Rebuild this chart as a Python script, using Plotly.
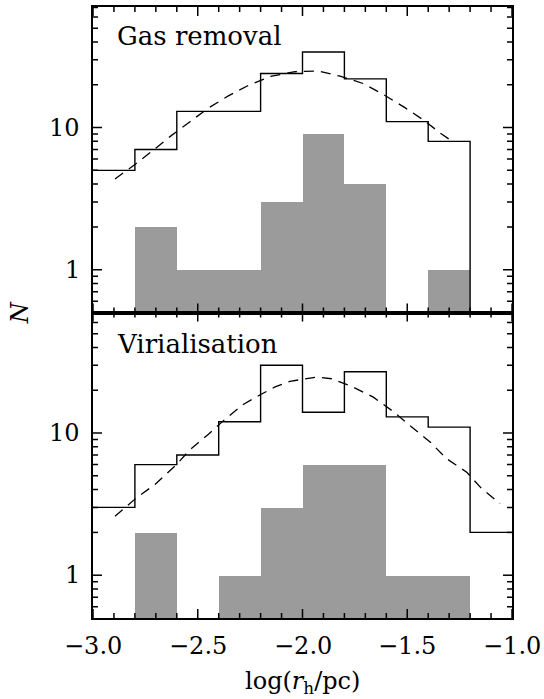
import math
import plotly.graph_objects as go
from plotly.subplots import make_subplots

# Bin edges of log(r_h/pc), width 0.2 dex
bin_edges = [-3.0, -2.8, -2.6, -2.4, -2.2, -2.0, -1.8, -1.6, -1.4, -1.2, -1.0]

# Gas removal: all clusters (outline) and subsample (grey)
gas_all = [5, 7, 13, 13, 24, 34, 22, 11, 8, 0]
gas_sub = [0, 2, 1, 1, 3, 9, 4, 0, 1, 0]
gas_fit_x = [-2.895, -2.803, -2.712, -2.628, -2.537, -2.450, -2.354, -2.255, -2.147,
             -2.036, -1.925, -1.821, -1.710, -1.614, -1.511, -1.423, -1.336, -1.296]
gas_fit_y = [4.35, 5.45, 6.94, 8.74, 11.0, 13.7, 16.7, 19.9, 23.0,
             24.7, 25.0, 23.0, 20.4, 17.1, 13.8, 11.3, 9.0, 8.2]

# Virialisation
vir_all = [3, 6, 7, 12, 30, 14, 27, 13, 11, 2]
vir_sub = [0, 2, 0, 1, 3, 6, 6, 1, 1, 0]
vir_fit_x = [-2.895, -2.791, -2.704, -2.600, -2.537, -2.449, -2.370, -2.283, -2.193,
             -2.131, -2.060, -1.980, -1.932, -1.861, -1.765, -1.662, -1.565, -1.487,
             -1.391, -1.312, -1.216, -1.145, -1.057]
vir_fit_y = [2.60, 3.52, 4.35, 6.03, 7.64, 9.8, 12.5, 15.9, 18.9,
             21.1, 23.1, 24.1, 24.8, 24.1, 21.3, 17.9, 14.1, 11.3,
             8.65, 6.6, 5.3, 4.07, 3.19]

panel_labels = ["Gas removal", "Virialisation"]
x_ticks = [-3.0, -2.5, -2.0, -1.5, -1.0]
x_minor = [-2.9, -2.8, -2.7, -2.6, -2.4, -2.3, -2.2, -2.1,
           -1.9, -1.8, -1.7, -1.6, -1.4, -1.3, -1.2, -1.1]
y_ticks = [1, 10]
y_minor = [0.6, 0.7, 0.8, 0.9, 2, 3, 4, 5, 6, 7, 8, 9, 20, 30, 40, 50, 60, 70]

FONT = "DejaVu Serif"
GREY = "#9b9b9b"
FLOOR = 0.1  # below the axis range, used for empty bins of the outline
X_RANGE = [-3.0, -1.0]
Y_RANGE = [-0.301, 1.848]  # log10 of 0.5 .. 70.5

W, H = 544, 699
M_L, M_R, M_T, M_B = 93, 32, 5, 81
PLOT_W = W - M_L - M_R
PLOT_H = H - M_T - M_B
PANEL_H = PLOT_H / 2
PX_PER_X = PLOT_W / (X_RANGE[1] - X_RANGE[0])
PX_PER_DEC = PANEL_H / (Y_RANGE[1] - Y_RANGE[0])
MAJOR_LEN, MINOR_LEN = 9, 5

centres = [(a + b) / 2 for a, b in zip(bin_edges[:-1], bin_edges[1:])]

fig = make_subplots(rows=2, cols=1, shared_xaxes=True, vertical_spacing=0)

panels = [(gas_all, gas_sub, gas_fit_x, gas_fit_y),
          (vir_all, vir_sub, vir_fit_x, vir_fit_y)]
for row, (all_counts, sub_counts, fx, fy) in enumerate(panels, start=1):
    fig.add_trace(go.Bar(
        x=centres, y=[c if c > 0 else None for c in sub_counts],
        width=0.2, marker=dict(color=GREY, line=dict(width=0)),
        showlegend=False, hoverinfo="skip"), row=row, col=1)
    step_y = [c if c > 0 else FLOOR for c in all_counts]
    fig.add_trace(go.Scatter(
        x=bin_edges, y=step_y + [step_y[-1]], mode="lines",
        line=dict(color="black", width=1.4, shape="hv"),
        showlegend=False, hoverinfo="skip"), row=row, col=1)
    fig.add_trace(go.Scatter(
        x=fx, y=fy, mode="lines",
        line=dict(color="black", width=1.3, dash="10px,7px"),
        showlegend=False, hoverinfo="skip"), row=row, col=1)

    # inward tick marks on all four sides, built from the tick value lists
    tx, ty = [], []
    y_lo, y_hi = 10 ** Y_RANGE[0], 10 ** Y_RANGE[1]
    for vals, length in ((x_ticks, MAJOR_LEN), (x_minor, MINOR_LEN)):
        d = length / PX_PER_DEC
        for v in vals:
            tx += [v, v, None, v, v, None]
            ty += [y_lo, 10 ** (Y_RANGE[0] + d), None, y_hi, 10 ** (Y_RANGE[1] - d), None]
    for vals, length in ((y_ticks, MAJOR_LEN), (y_minor, MINOR_LEN)):
        d = length / PX_PER_X
        for v in vals:
            tx += [X_RANGE[0], X_RANGE[0] + d, None, X_RANGE[1], X_RANGE[1] - d, None]
            ty += [v, v, None, v, v, None]
    fig.add_trace(go.Scatter(
        x=tx, y=ty, mode="lines", line=dict(color="black", width=1.5),
        showlegend=False, hoverinfo="skip", connectgaps=False), row=row, col=1)

axis_style = dict(
    showline=True, linewidth=1.8, linecolor="black", mirror=True,
    ticks="", showgrid=False, zeroline=False, showticklabels=False,
)
for r in (1, 2):
    fig.update_xaxes(range=X_RANGE, **axis_style, row=r, col=1)
    fig.update_yaxes(type="log", range=Y_RANGE, **axis_style, row=r, col=1)

label_font = dict(family=FONT, size=24, color="black")
annotations = []
# x tick labels under the lower panel
for v in x_ticks:
    annotations.append(dict(
        text=f"{v:.1f}".replace("-", "\u2212"), xref="x2", yref="paper",
        x=v, y=-28 / PLOT_H, xanchor="center", yanchor="middle",
        showarrow=False, font=label_font))
# y tick labels for both panels
for ya in ("y", "y2"):
    for v in y_ticks:
        annotations.append(dict(
            text=str(v), xref="paper", yref=ya, x=-11 / PLOT_W, y=math.log10(v),
            xanchor="right", yanchor="middle", showarrow=False, font=label_font))

annotations += [
    dict(text=panel_labels[0], xref="paper", yref="paper",
         x=0.052, y=0.953, xanchor="left", yanchor="middle",
         showarrow=False, font=dict(family=FONT, size=26)),
    dict(text=panel_labels[1], xref="paper", yref="paper",
         x=0.052, y=0.448, xanchor="left", yanchor="middle",
         showarrow=False, font=dict(family=FONT, size=26)),
    dict(text="<i>N</i>", xref="paper", yref="paper",
         x=-0.175, y=0.5, xanchor="center", yanchor="middle",
         textangle=-90, showarrow=False, font=label_font),
    dict(text="log(<i>r</i><sub>h</sub>/pc)", xref="paper", yref="paper",
         x=0.5, y=-0.105, xanchor="center", yanchor="middle",
         showarrow=False, font=label_font),
]

fig.update_layout(
    width=W, height=H,
    margin=dict(l=M_L, r=M_R, t=M_T, b=M_B),
    paper_bgcolor="white", plot_bgcolor="white",
    bargap=0,
    font=dict(family=FONT, size=24, color="black"),
    annotations=annotations,
)

fig.write_html("out.html")
